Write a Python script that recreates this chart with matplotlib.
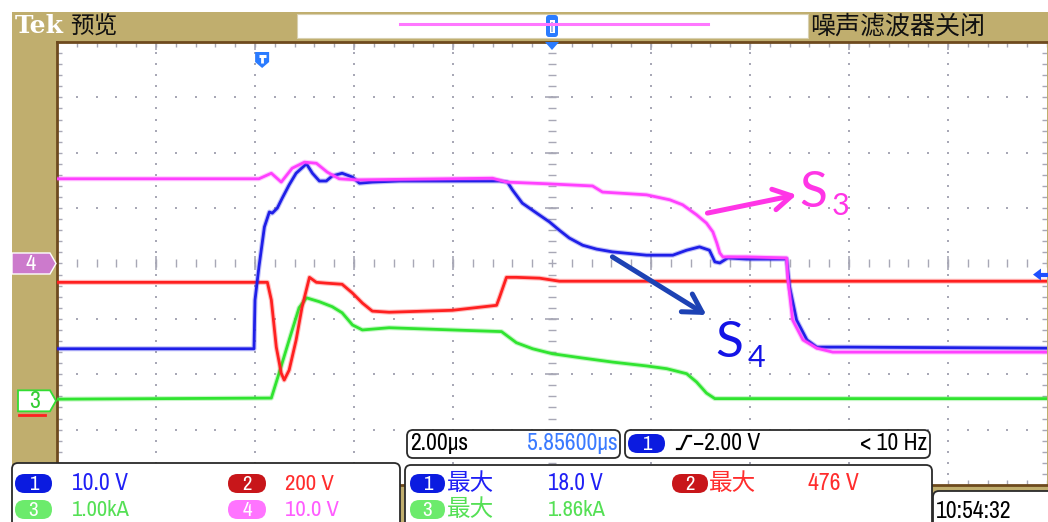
import numpy as np
import matplotlib
matplotlib.use("Agg")
import matplotlib.pyplot as plt
from matplotlib import font_manager
from matplotlib.patches import FancyBboxPatch, Polygon, Rectangle

# ------------------------------------------------------------------
# acquisition settings
TIME_PER_DIV = 2.0            # µs / div
N_HDIV, N_VDIV = 10, 8
H_POSITION = 5.856            # µs, screen centre relative to trigger
TRIG_LEVEL = -2.00            # V on CH1, rising edge
CH_SCALE = {1: 10.0, 2: 200.0, 3: 1.00, 4: 10.0}     # units / div
CH_GROUND = {1: 0.0, 2: -2.63, 3: -2.48, 4: 0.0}     # ground level, div from centre
SCALE_LABELS = {1: "10.0 V", 2: "200 V", 3: "1.00kA", 4: "10.0 V"}
TIME_STAMP = "10:54:32"

# ------------------------------------------------------------------
# waveforms (time in µs from the left edge of the screen)
ch1_t = [0.00, 3.98, 4.00, 4.08, 4.19, 4.29, 4.35, 4.45, 4.55, 4.69, 4.83, 5.04,
         5.16, 5.30, 5.44, 5.56, 5.76, 5.97, 6.11, 6.37, 6.92, 8.94, 9.10, 9.20,
         9.40, 9.69, 9.95, 10.15, 10.35, 10.62, 10.90, 11.22, 11.91, 12.44, 12.72,
         12.98, 13.18, 13.29, 13.39, 13.55, 13.93, 14.74, 14.80, 14.94, 15.15,
         15.35, 15.96, 20.00]
ch1_v = [-15.4, -15.4, -6.6, -0.6, 6.6, 9.3, 9.1, 10.0, 11.8, 14.2, 16.3, 18.0,
         16.3, 14.9, 14.9, 15.8, 16.3, 15.6, 14.5, 14.7, 14.9, 14.9, 14.7, 13.3,
         10.9, 9.1, 7.5, 6.0, 4.6, 3.3, 2.6, 2.1, 1.5, 1.5, 2.4,
         3.0, 2.4, 0.3, 0.1, 1.0, 0.8, 0.8, -4.2, -10.2, -13.8,
         -15.1, -15.1, -15.3]

ch2_t = [0.00, 4.25, 4.33, 4.43, 4.53, 4.59, 4.69, 4.83, 4.95, 5.10, 5.24, 5.44,
         5.76, 5.97, 6.17, 6.37, 6.71, 7.99, 8.88, 8.94, 9.08, 9.28, 9.75, 10.15,
         20.00]
ch2_v = [458, 458, 394, 224, 130, 105, 141, 249, 368, 476, 458, 455,
         451, 419, 383, 354, 350, 357, 375, 404, 476, 476, 473, 462,
         462]

ch3_t = [0.00, 4.33, 4.49, 4.69, 4.89, 5.04, 5.30, 5.56, 5.76, 5.97, 6.17, 6.71,
         7.99, 8.98, 9.28, 9.61, 10.01, 10.56, 11.22, 11.91, 12.32, 12.72, 12.92,
         13.12, 13.29, 20.00]
ch3_v = [0.03, 0.05, 0.51, 1.10, 1.68, 1.86, 1.79, 1.70, 1.59, 1.37, 1.28, 1.32,
         1.28, 1.25, 1.05, 0.94, 0.85, 0.78, 0.70, 0.63, 0.58, 0.49, 0.34,
         0.14, 0.04, 0.04]

ch4_t = [0.00, 4.08, 4.33, 4.53, 4.75, 5.00, 5.24, 5.46, 5.70, 6.05, 8.80, 9.08,
         9.89, 10.82, 11.02, 11.91, 12.38, 12.64, 12.92, 13.12, 13.25, 13.33,
         13.39, 13.45, 13.93, 14.74, 14.76, 14.86, 15.07, 15.35, 15.67, 20.00]
ch4_v = [15.3, 15.3, 16.3, 14.7, 17.2, 18.3, 18.1, 16.5, 15.3, 15.1, 15.4, 14.7,
         14.4, 14.0, 12.9, 12.4, 11.5, 10.6, 8.8, 7.3, 5.7, 3.7,
         1.9, 1.2, 1.2, 1.0, -2.4, -10.2, -13.8, -15.3, -16.0, -16.0]

# ------------------------------------------------------------------
# colours / fonts
TAN = "#C0AE6E"
BROWN = "#6E4A1E"
GRID_C = "#A8A8B6"
TRACE_C = {1: "#1F1FE8", 2: "#FF2020", 3: "#30E430", 4: "#FF40FF"}
PILL_C = {1: "#0B1BE0", 2: "#C8161A", 3: "#6CEB6C", 4: "#FF74FF"}
TEXT_C = {1: "#2020F5", 2: "#FF2D2D", 3: "#55E055", 4: "#FF5CFF"}
CJK = ["Noto Sans CJK SC", "DejaVu Sans"]


def pick_narrow():
    fl = font_manager.fontManager.ttflist
    for f in fl:
        if ("Narrow" in f.name or "Condensed" in f.name) and f.style == "normal":
            return f.name, "normal"
    for f in fl:
        if str(f.stretch) in ("condensed", "semi-condensed", "extra-condensed"):
            return f.name, f.stretch
    return "Liberation Sans", "normal"


NARROW, NARROW_STRETCH = pick_narrow()

W, H = 1048, 522
GX0, GX1 = 57, 1047           # graticule edges, px
GY0, GY1 = 42, 485

fig = plt.figure(figsize=(W / 100, H / 100), dpi=100, facecolor="white")
renderer = fig.canvas.get_renderer()

bg = fig.add_axes([0, 0, 1, 1], zorder=0)
bg.set_xlim(0, W); bg.set_ylim(H, 0); bg.axis("off")
bg.add_patch(Rectangle((12, 12), W - 12, H - 12, color=TAN, lw=0))

ax = fig.add_axes([GX0 / W, 1 - GY1 / H, (GX1 - GX0) / W, (GY1 - GY0) / H], zorder=1)
XMAX = N_HDIV * TIME_PER_DIV
ax.set_xlim(0, XMAX)
ax.set_ylim(-N_VDIV / 2, N_VDIV / 2)
ax.set_facecolor("white")
ax.set_xticks([]); ax.set_yticks([])
for side in ("top", "left", "bottom"):
    ax.spines[side].set_color(BROWN)
    ax.spines[side].set_linewidth(2.0)
ax.spines["right"].set_visible(False)

fg = fig.add_axes([0, 0, 1, 1], zorder=2)
fg.set_xlim(0, W); fg.set_ylim(H, 0); fg.axis("off")

px_x = TIME_PER_DIV * N_HDIV / (GX1 - GX0)     # µs per pixel
px_y = N_VDIV / (GY1 - GY0)                    # div per pixel


def div_to_py(d):
    return (GY0 + GY1) / 2 - d / px_y


def t_to_px(t):
    return GX0 + t / px_x

# ------------------------------------------------------------------
# graticule
minor_x = np.linspace(0, XMAX, N_HDIV * 5 + 1)
minor_y = np.linspace(-N_VDIV / 2, N_VDIV / 2, N_VDIV * 5 + 1)
centre_x = XMAX / 2
major_x = np.array([TIME_PER_DIV * k for k in range(1, N_HDIV) if k != N_HDIV // 2])
major_y = np.array([k for k in range(-N_VDIV // 2 + 1, N_VDIV // 2) if k != 0])

ax.plot(np.repeat(major_x, len(minor_y) - 2), np.tile(minor_y[1:-1], len(major_x)),
        ls="none", marker="s", ms=1.5, mew=0, color=GRID_C, zorder=1)
ax.plot(np.tile(minor_x[1:-1], len(major_y)), np.repeat(major_y, len(minor_x) - 2),
        ls="none", marker="s", ms=1.5, mew=0, color=GRID_C, zorder=1)
ax.vlines(minor_x, -4 * px_y, 4 * px_y, color=GRID_C, lw=1.0, zorder=1)
ax.vlines(major_x, -7 * px_y, 7 * px_y, color=GRID_C, lw=1.2, zorder=1)
ax.hlines(minor_y, centre_x - 4 * px_x, centre_x + 4 * px_x, color=GRID_C, lw=1.0, zorder=1)
ax.hlines(major_y, centre_x - 7 * px_x, centre_x + 7 * px_x, color=GRID_C, lw=1.2, zorder=1)
top, bot = N_VDIV / 2, -N_VDIV / 2
ax.vlines(minor_x, top - 5 * px_y, top, color=GRID_C, lw=1.0, zorder=1)
ax.vlines(major_x, top - 8 * px_y, top, color=GRID_C, lw=1.2, zorder=1)
ax.vlines(minor_x, bot, bot + 5 * px_y, color=GRID_C, lw=1.0, zorder=1)
ax.hlines(minor_y, 0, 5 * px_x, color=GRID_C, lw=1.0, zorder=1)
ax.hlines(minor_y, XMAX - 5 * px_x, XMAX, color=GRID_C, lw=1.0, zorder=1)

# ------------------------------------------------------------------
# traces
traces = {1: (ch1_t, ch1_v), 2: (ch2_t, ch2_v), 3: (ch3_t, ch3_v), 4: (ch4_t, ch4_v)}
for ch in (3, 2, 1, 4):
    t, v = traces[ch]
    y = np.asarray(v, float) / CH_SCALE[ch] + CH_GROUND[ch]
    ax.plot(t, y, color=TRACE_C[ch], lw=3.6, alpha=0.28, solid_joinstyle="round", zorder=3)
    ax.plot(t, y, color=TRACE_C[ch], lw=2.0, solid_joinstyle="round", zorder=3)

# S3 / S4 annotations
S3_C, S4_C, S4_ARROW = "#FF35E6", "#1414E6", "#1D42B4"
LABEL_FONT = ["Lato", "DejaVu Sans"]
ax.annotate("", xy=(14.94, 1.24), xytext=(13.14, 0.91),
            arrowprops=dict(arrowstyle="->,head_length=1.3,head_width=0.75",
                            lw=3.6, color=S3_C, shrinkA=0, shrinkB=0), zorder=5)
ax.text(15.0, 1.02, "S", color=S3_C, fontsize=37, family=LABEL_FONT, va="baseline", zorder=5)
ax.text(15.66, 0.875, "3", color=S3_C, fontsize=22, family=LABEL_FONT, va="baseline", zorder=5)
ax.annotate("", xy=(13.12, -0.93), xytext=(11.22, 0.12),
            arrowprops=dict(arrowstyle="->,head_length=1.3,head_width=0.75",
                            lw=3.6, color=S4_ARROW, shrinkA=0, shrinkB=0), zorder=5)
ax.text(13.30, -1.69, "S", color=S4_C, fontsize=37, family=LABEL_FONT, va="baseline", zorder=5)
ax.text(13.96, -1.87, "4", color=S4_C, fontsize=22, family=LABEL_FONT, va="baseline", zorder=5)

# ------------------------------------------------------------------
# helpers for the readout overlay


def put(x, y, s, color="black", size=17, maxw=None, ha="left", family=None, **kw):
    if family is None:
        t = fg.text(x, y, s, color=color, fontsize=size, ha=ha, va="center",
                    family=NARROW, fontstretch=NARROW_STRETCH, **kw)
    else:
        t = fg.text(x, y, s, color=color, fontsize=size, ha=ha, va="center",
                    family=family, **kw)
    if maxw is not None:
        bb = t.get_window_extent(renderer)
        if bb.width > maxw:
            t.set_fontsize(size * maxw / bb.width)
    return t


def pill(x, y, w, h, ch, label):
    fg.add_patch(FancyBboxPatch((x, y), w, h, boxstyle=f"round,pad=0,rounding_size={h / 2}",
                                fc=PILL_C[ch], ec="none"))
    put(x + w / 2, y + h / 2 + 0.5, label, color="white", size=15, ha="center")


def panel(x, y, w, h):
    fg.add_patch(FancyBboxPatch((x, y), w, h, boxstyle="round,pad=0,rounding_size=6",
                                fc="white", ec="#2A2A2A", lw=1.3))

# top bar
fg.text(15, 26, "Tek", color="white", fontsize=18, weight="bold", family="DejaVu Serif",
        va="center")
fg.text(70, 26, "预览", color="#111111", fontsize=17, family=CJK, va="center")
fg.add_patch(Rectangle((297, 14), 511, 24, fc="white", ec="#D8D0B0", lw=0.8))
fg.plot([400, 708], [24, 24], color="#FF77FF", lw=2.2)
mx = t_to_px(centre_x)
fg.add_patch(FancyBboxPatch((mx - 6, 15), 12, 22, boxstyle="round,pad=0,rounding_size=3",
                            fc="#2A7BFF", ec="none"))
fg.add_patch(Rectangle((mx - 2.5, 20), 5, 13, fc="white", ec="none"))
fg.add_patch(Rectangle((mx - 1.2, 21.5), 2.4, 10, fc="#9FB8E8", ec="none"))
fg.add_patch(Polygon([(mx - 7, GY0), (mx + 7, GY0), (mx, GY0 + 8)], closed=True,
                     fc="#2A7BFF", ec="none"))
fg.text(810, 26, "噪声滤波器关闭", color="#111111", fontsize=18, family=CJK, va="center")

# trigger-point marker
tx = t_to_px(centre_x - H_POSITION)
fg.add_patch(Polygon([(tx - 7, 52), (tx + 7, 52), (tx + 7, 62), (tx, 68), (tx - 7, 62)],
                     closed=True, fc="#2A7BFF", ec="none"))
fg.plot([tx - 3.5, tx + 3.5], [56, 56], color="white", lw=2.2, solid_capstyle="butt")
fg.plot([tx, tx], [56, 63], color="white", lw=2.0, solid_capstyle="butt")

# trigger-level marker
ty = div_to_py(TRIG_LEVEL / CH_SCALE[1] + CH_GROUND[1])
fg.add_patch(Polygon([(1033, ty), (1041, ty - 6), (1041, ty + 6)], closed=True,
                     fc="#1E50FF", ec="none"))
fg.plot([1040, 1048], [ty, ty], color="#1E50FF", lw=3.0)

# channel ground markers
y4 = div_to_py(CH_GROUND[4])
fg.add_patch(Polygon([(12, y4 - 10.5), (50, y4 - 10.5), (56, y4), (50, y4 + 10.5),
                      (12, y4 + 10.5)], closed=True, fc="#CC7ACC", ec="white", lw=1.0))
put(31, y4 + 0.5, "4", color="white", size=16, ha="center")
y3 = div_to_py(CH_GROUND[3])
fg.add_patch(Polygon([(18, y3 - 10.5), (50, y3 - 10.5), (56, y3), (50, y3 + 10.5),
                      (18, y3 + 10.5)], closed=True, fc="white", ec="#33DD33", lw=1.3))
put(35, y3 + 0.5, "3", color="#33CC33", size=17, ha="center")
fg.plot([19, 45], [y3 + 14, y3 + 14], color="#FF2020", lw=2.0)

# ------------------------------------------------------------------
# readout panels
panel(12, 463, 388, 75)
pill(15, 474, 37, 19, 1, "1")
put(72, 483.5, SCALE_LABELS[1], TEXT_C[1], maxw=56)
pill(228, 474, 38, 19, 2, "2")
put(285, 483.5, SCALE_LABELS[2], TEXT_C[2], maxw=49)
pill(15, 500, 37, 19, 3, "3")
put(72, 509.5, SCALE_LABELS[3], TEXT_C[3], maxw=58)
pill(228, 500, 38, 19, 4, "4")
put(285, 509.5, SCALE_LABELS[4], TEXT_C[4], maxw=54)

panel(407, 430, 213, 28)
put(410, 443, f"{TIME_PER_DIV:.2f}µs", "black", maxw=61)
put(618, 443, f"{H_POSITION:.5f}µs", "#3B7BFF", maxw=97, ha="right")

panel(625, 430, 305, 28)
pill(628, 434, 37, 19, 1, "1")
fg.plot([677, 681, 687, 691], [449, 449, 436, 436], color="black", lw=1.6)
put(693, 443, f"−{abs(TRIG_LEVEL):.2f} V", "black", maxw=78)
put(927, 443, "< 10 Hz", "black", maxw=68, ha="right")

panel(405, 465, 527, 75)
pill(410, 474, 35, 19, 1, "1")
put(447, 483, "最大", TEXT_C[1], size=17, family=CJK)
put(548, 483.5, f"{max(ch1_v):.1f} V", TEXT_C[1], maxw=55)
pill(672, 474, 36, 19, 2, "2")
put(709, 483, "最大", TEXT_C[2], size=17, family=CJK)
put(808, 483.5, f"{max(ch2_v):.0f} V", TEXT_C[2], maxw=52)
pill(410, 500, 35, 19, 3, "3")
put(447, 509, "最大", TEXT_C[3], size=17, family=CJK)
put(548, 509.5, f"{max(ch3_v):.2f}kA", TEXT_C[3], maxw=58)

panel(933, 491, 130, 45)
put(936, 512, TIME_STAMP, "black", maxw=76)

fig.savefig("out.png", dpi=100, facecolor="white")
